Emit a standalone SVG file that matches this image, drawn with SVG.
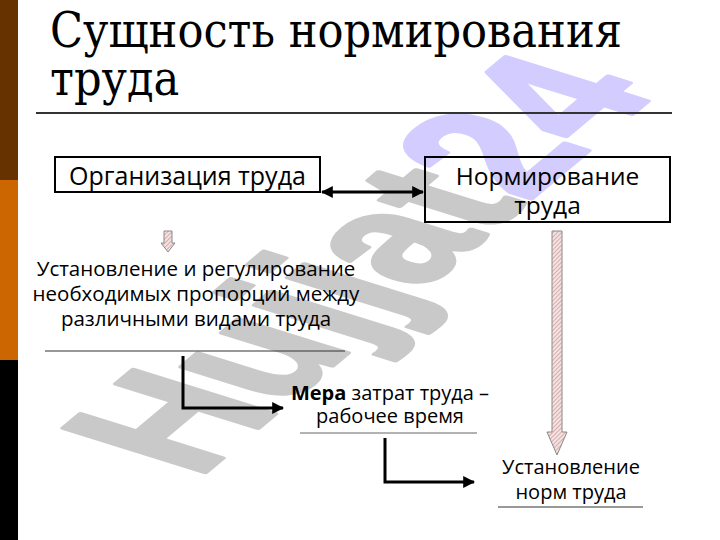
<svg xmlns="http://www.w3.org/2000/svg" width="720" height="540" viewBox="0 0 720 540">
<style>
.t{font-family:"Open Sans","Noto Sans","DejaVu Sans",sans-serif;fill:#000;text-anchor:middle}
.box{fill:none;stroke:#000;stroke-width:2}
.conn{fill:none;stroke:#000;stroke-width:3}
.rule{stroke:#333;stroke-width:1}
.blk{fill:url(#hatch);stroke:#8a8a8a;stroke-width:1}
.ttl{font-family:"DejaVu Serif","Liberation Serif",serif;font-stretch:condensed;font-size:48px;fill:#000}
</style>
<defs>
<pattern id="hatch" patternUnits="userSpaceOnUse" width="3" height="3" patternTransform="rotate(45)">
<rect width="3" height="3" fill="#f6e2e2"/>
<line x1="0" y1="0" x2="0" y2="3" stroke="#c08a8a" stroke-width="1.2"/>
</pattern>
<marker id="ah" viewBox="0 0 10 10" refX="9" refY="5" markerWidth="4" markerHeight="4" orient="auto-start-reverse" markerUnits="strokeWidth">
<path d="M0,0 L10,5 L0,10 z" fill="#000"/>
</marker>
</defs>
<rect width="720" height="540" fill="#fff"/>
<rect x="0" y="0" width="18" height="180" fill="#663300"/>
<rect x="0" y="180" width="18" height="180" fill="#cc6600"/>
<rect x="0" y="360" width="18" height="180" fill="#000"/>

<g id="watermark" transform="matrix(1.187,-0.997,2.05,0.64,197,479)" style="font-family:'Liberation Sans',Arial,sans-serif;font-weight:bold;font-size:100px;stroke-width:3;stroke-linejoin:round">
<text x="0" y="0"><tspan fill="#c9c9c9" stroke="#c9c9c9">Hujjat</tspan><tspan fill="#d3ccff" stroke="#d3ccff">24</tspan></text>
</g>

<g id="title">
<text class="ttl" x="50" y="47">Сущность нормирования</text>
<text class="ttl" x="50" y="95">труда</text>
<line x1="36" y1="113" x2="672" y2="113" stroke="#333" stroke-width="2"/>
</g>

<g id="connectors">
<line class="conn" x1="322" y1="192" x2="423" y2="192" marker-start="url(#ah)" marker-end="url(#ah)"/>
<polyline class="conn" points="183,356 183,408 283,408" marker-end="url(#ah)"/>
<polyline class="conn" points="385,438 385,482 474,482" marker-end="url(#ah)"/>
<path class="blk" d="M164,231 H172 V243 H175 L168,252 L161,243 H164 Z"/>
<path class="blk" d="M552,231 H562 V432 H567 L557,455 L547,432 H552 Z"/>
</g>

<g id="org">
<rect class="box" x="55" y="157" width="265" height="35"/>
<text class="t" x="187.5" y="185" font-size="25">Организация труда</text>
</g>

<g id="norm">
<rect class="box" x="425" y="157" width="245" height="65"/>
<text class="t" x="547.5" y="185" font-size="24.5">Нормирование</text>
<text class="t" x="547.5" y="214" font-size="24.5">труда</text>
</g>

<g id="ustanovlenie">
<text class="t" x="196" y="276" font-size="20.5">Установление и регулирование</text>
<text class="t" x="196" y="301" font-size="20.5">необходимых пропорций между</text>
<text class="t" x="196" y="326" font-size="20.5">различными видами труда</text>
<line class="rule" x1="45" y1="351" x2="345" y2="351"/>
</g>

<g id="mera">
<text class="t" x="390" y="400" font-size="20"><tspan font-weight="bold">Мера</tspan> затрат труда –</text>
<text class="t" x="390" y="423" font-size="20">рабочее время</text>
<line x1="300" y1="433" x2="477" y2="433" stroke="#666" stroke-width="1"/>
</g>

<g id="normy">
<text class="t" x="571" y="474" font-size="20">Установление</text>
<text class="t" x="571" y="499" font-size="20">норм труда</text>
<line class="rule" x1="498" y1="507" x2="643" y2="507"/>
</g>
</svg>
